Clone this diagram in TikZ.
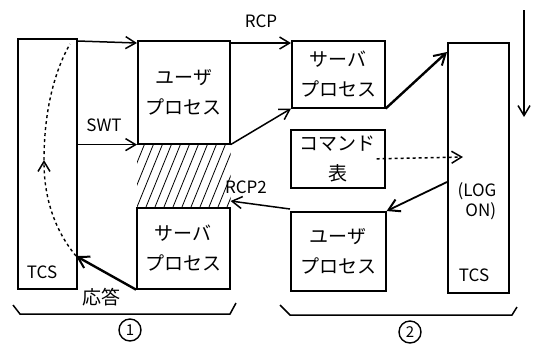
\documentclass[tikz,border=0pt]{standalone}
\usepackage{fontspec}
\setmainfont{Noto Sans CJK JP}
\usetikzlibrary{arrows.meta}
\begin{document}
\begin{tikzpicture}[x=1pt,y=-1pt,
  box/.style={draw,line width=1.6pt,inner sep=0pt},
  lbl/.style={font=\fontsize{17}{20}\selectfont,align=center},
  jp/.style={font=\fontsize{19}{30}\selectfont,align=center},
  arr/.style={line width=1.5pt,-{Straight Barb[length=10pt,width=12pt,line width=1.5pt]}},
  tarr/.style={line width=2.4pt,-{Straight Barb[length=11pt,width=13pt,line width=2pt]}}]
\useasboundingbox (0,0) rectangle (537,349);
% boxes
\node[box,minimum width=59pt,minimum height=250pt,anchor=north west] (tcsL) at (17,38) {};
\node[box,minimum width=92pt,minimum height=103pt,anchor=north west,jp] (up1) at (137,40) {ユーザ\\プロセス};
\node[box,minimum width=93pt,minimum height=67pt,anchor=north west,jp] (sp2) at (291,40) {サーバ\\プロセス};
\node[box,minimum width=94pt,minimum height=58pt,anchor=north west,jp] (cmd) at (290,129) {コマンド\\表};
\node[box,minimum width=95pt,minimum height=79pt,anchor=north west,jp] (up2) at (290,211) {ユーザ\\プロセス};
\node[box,minimum width=93pt,minimum height=81pt,anchor=north west,jp] (sp1) at (136,207) {サーバ\\プロセス};
\node[box,minimum width=61pt,minimum height=250pt,anchor=north west] (tcsR) at (447,42) {};
% texts
\node[lbl] (tcsLt) at (42,272) {TCS};
\node[lbl] (tcsRt) at (474,275) {TCS};
\node[lbl] (logon) at (477,201) {(LOG\\\ \ ON)};
\node[lbl] (rcp) at (261,21) {RCP};
\node[lbl] (rcp2) at (246,187) {RCP2};
\node[lbl] (swt) at (104,125) {SWT};
\node[jp] (resp) at (101,297) {応答};
% hatch
\begin{scope}
\clip (up1.south west) rectangle (sp1.north east);
\foreach \i in {0,...,15} {
  \draw[line width=0.8pt] (110+9*\i,207) -- ++(26,-64);
}
\end{scope}
% connectors
\coordinate (a1) at (tcsL.north east);
\draw[arr] ([yshift=-3pt]a1) -- ([yshift=-3pt]up1.north west);
\draw[arr] (tcsL.east |- up1.south west) -- (up1.south west);
\draw[arr] ([yshift=-3pt]up1.north east) -- ([yshift=-3pt]sp2.north west);
\draw[arr] (up1.south east) -- (sp2.south west);
\draw[tarr] (sp2.south east) -- ([yshift=-10pt]tcsR.north west);
\coordinate (dashend) at (463,157);
\draw[arr,dashed] ([xshift=-9pt]cmd.east) -- (dashend);
\coordinate (logfrom) at (447,182);
\draw[tarr,line width=1.8pt] (logfrom) -- (up2.north east);
\draw[arr] ([yshift=2pt]up2.north west) -- ([yshift=6pt]sp1.north east);
\coordinate (tcsLin) at (76,256);
\draw[tarr] (sp1.south west) -- (tcsLin);
\coordinate (ctop) at (70,44);
\coordinate (cmid) at (44,160);
\draw[dashed,line width=1.4pt,-{Straight Barb[length=10pt,width=12pt,line width=1.5pt]}] (tcsLin) .. controls (56,232) and (44,200) .. (cmid);
\draw[dashed,line width=1.4pt] (cmid) .. controls (44,110) and (55,70) .. (ctop);
% down arrow
\coordinate (dtop) at (524,10);
\coordinate (dbot) at (524,117);
\draw[arr] (dtop) -- (dbot);
% brackets
\draw[line width=1.5pt] (13,305) -- (20,314) -- (230,314) -- (236,303);
\draw[line width=1.5pt] (280,305) -- (290,315) -- (512,315) -- (517,307);
\node[draw,circle,line width=1.4pt,inner sep=0pt,minimum size=22pt,font=\fontsize{15}{16}\selectfont] (n1) at (130,330) {1};
\node[draw,circle,line width=1.4pt,inner sep=0pt,minimum size=22pt,font=\fontsize{15}{16}\selectfont] (n2) at (410,332) {2};
\end{tikzpicture}
\end{document}
